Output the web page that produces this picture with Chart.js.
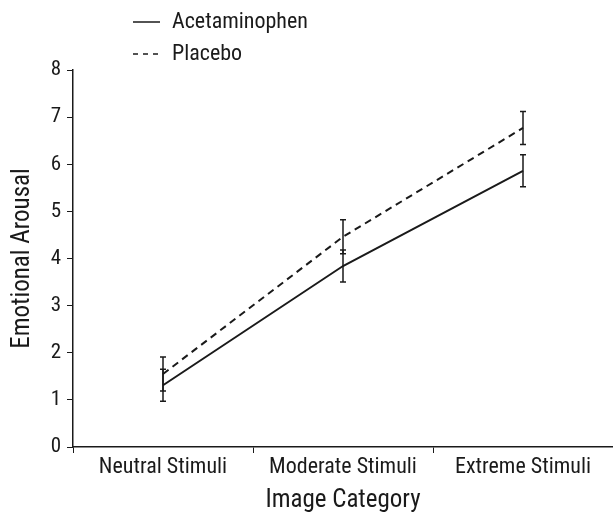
<!DOCTYPE html>
<html lang="en">
<head>
    <meta charset="UTF-8">
    <title>Emotional Arousal by Image Category</title>
    <script src="https://cdn.jsdelivr.net/npm/chart.js"></script>
    <style>
        html, body { margin: 0; padding: 0; background: #fff; }
        #wrap { width: 613px; height: 516px; }
    </style>
</head>
<body>
    <div id="wrap"><canvas id="arousalChart"></canvas></div>

    <script type="text/javascript">
        // data
        var categories = ['Neutral Stimuli', 'Moderate Stimuli', 'Extreme Stimuli'];
        var acetaminophen = [1.31, 3.84, 5.86];
        var acetaminophenErr = [0.34, 0.34, 0.34];
        var placebo = [1.55, 4.46, 6.77];
        var placeboErr = [0.36, 0.36, 0.35];
        var yTicks = [0, 1, 2, 3, 4, 5, 6, 7, 8];

        var fontName = "'Roboto Condensed', 'Liberation Sans Narrow', 'Liberation Sans', sans-serif";
        var ink = '#1a1a1a';

        // error bars drawn through the chart's scales
        var errorBars = {
            id: 'errorBars',
            afterDatasetsDraw: function(chart) {
                var ctx = chart.ctx;
                var yScale = chart.scales.y;
                ctx.save();
                ctx.strokeStyle = ink;
                ctx.lineWidth = 1.5;
                ctx.setLineDash([]);
                chart.data.datasets.forEach(function(ds, di) {
                    var meta = chart.getDatasetMeta(di);
                    meta.data.forEach(function(pt, i) {
                        var top = yScale.getPixelForValue(ds.data[i] + ds.errors[i]);
                        var bot = yScale.getPixelForValue(ds.data[i] - ds.errors[i]);
                        ctx.beginPath();
                        ctx.moveTo(pt.x, top);
                        ctx.lineTo(pt.x, bot);
                        ctx.moveTo(pt.x - 3, top);
                        ctx.lineTo(pt.x + 3, top);
                        ctx.moveTo(pt.x - 3, bot);
                        ctx.lineTo(pt.x + 3, bot);
                        ctx.stroke();
                    });
                });
                ctx.restore();
            }
        };

        // stacked legend in the top margin
        var stackedLegend = {
            id: 'stackedLegend',
            afterDraw: function(chart) {
                var ctx = chart.ctx;
                ctx.save();
                ctx.font = '22px ' + fontName;
                ctx.fillStyle = ink;
                ctx.textBaseline = 'middle';
                chart.data.datasets.forEach(function(ds, di) {
                    var y = 22 + di * 32;
                    ctx.strokeStyle = ink;
                    ctx.lineWidth = 1.5;
                    ctx.setLineDash(ds.borderDash ? [5, 5] : []);
                    ctx.beginPath();
                    ctx.moveTo(133, y);
                    ctx.lineTo(160, y);
                    ctx.stroke();
                    ctx.fillText(ds.label, 172, y);
                });
                ctx.restore();
            }
        };

        var ctx = document.getElementById('arousalChart').getContext('2d');
        var arousalChart = new Chart(ctx, {
            type: 'line',
            data: {
                labels: categories,
                datasets: [{
                    label: 'Acetaminophen',
                    data: acetaminophen,
                    errors: acetaminophenErr,
                    borderColor: ink,
                    borderWidth: 2,
                    pointRadius: 0,
                    tension: 0,
                    fill: false
                }, {
                    label: 'Placebo',
                    data: placebo,
                    errors: placeboErr,
                    borderColor: ink,
                    borderWidth: 2,
                    borderDash: [7, 5],
                    pointRadius: 0,
                    tension: 0,
                    fill: false
                }]
            },
            options: {
                responsive: true,
                maintainAspectRatio: false,
                animation: false,
                layout: { padding: { top: 70, right: 0, left: 0, bottom: 0 } },
                plugins: {
                    legend: { display: false },
                    tooltip: { enabled: false }
                },
                scales: {
                    x: {
                        offset: true,
                        grid: {
                            offset: true,
                            drawOnChartArea: false,
                            drawTicks: true,
                            tickLength: 6,
                            color: ink
                        },
                        border: { display: true, color: ink, width: 1.5 },
                        ticks: {
                            color: ink,
                            font: { family: fontName, size: 22 },
                            padding: 1,
                            maxRotation: 0
                        },
                        title: {
                            display: true,
                            text: 'Image Category',
                            color: ink,
                            font: { family: fontName, size: 25 },
                            padding: { top: 0, bottom: 0 }
                        },
                        afterFit: function(scale) { scale.height = 69; }
                    },
                    y: {
                        min: 0,
                        max: 8,
                        afterBuildTicks: function(scale) {
                            scale.ticks = yTicks.map(function(v) { return { value: v }; });
                        },
                        grid: {
                            drawOnChartArea: false,
                            drawTicks: true,
                            tickLength: 6,
                            color: ink
                        },
                        border: { display: true, color: ink, width: 1.5 },
                        ticks: {
                            color: ink,
                            font: { family: fontName, size: 21 },
                            padding: 6
                        },
                        title: {
                            display: true,
                            text: 'Emotional Arousal',
                            color: ink,
                            font: { family: fontName, size: 25 },
                            padding: { top: 8, bottom: 0 }
                        },
                        afterFit: function(scale) { scale.width = 73; }
                    }
                }
            },
            plugins: [errorBars, stackedLegend]
        });
    </script>
</body>
</html>
